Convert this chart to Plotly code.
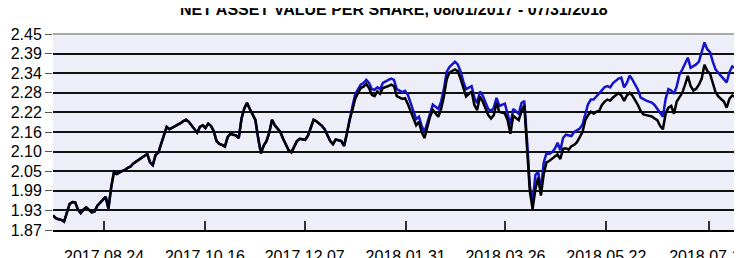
import plotly.graph_objects as go

# trading-day index (0 = 2017-08-01)
days = [
    0, 1, 2, 3, 4, 6, 7, 8, 9, 10,
    11, 12, 14, 15, 16, 17, 18, 19, 20, 21,
    22, 23, 25, 26, 27, 28, 29, 31, 32, 33,
    34, 35, 36, 37, 38, 40, 41, 42, 43, 44,
    46, 47, 48, 49, 50, 51, 52, 53, 54, 55,
    56, 57, 58, 59, 60, 61, 62, 63, 64, 65,
    66, 67, 68, 69, 70, 71, 73, 74, 75, 76,
    77, 78, 79, 80, 82, 83, 84, 85, 86, 87,
    88, 89, 91, 92, 93, 94, 95, 97, 98, 99,
    100, 101, 102, 104, 105, 106, 107, 108, 109, 110,
    111, 112, 113, 114, 115, 116, 117, 118, 119, 121,
    122, 123, 124, 126, 127, 128, 130, 131, 132, 133,
    134, 135, 136, 137, 139, 140, 141, 142, 143, 145,
    146, 147, 148, 149, 151, 152, 153, 154, 155, 157,
    158, 159, 160, 161, 163, 164, 165, 166, 168, 169,
    170,
    171, 172, 173, 174, 175, 176, 177, 178, 179, 180,
    181, 182, 183, 184, 185, 186, 187, 188, 189, 190,
    191, 192, 193, 194, 195, 196, 197, 198, 199, 200,
    201, 202, 203, 204, 205, 206, 207, 208, 209, 210,
    211, 212, 213, 214, 215, 216, 217, 218, 219, 220,
    221, 222, 223, 224, 225, 226, 227, 228, 229, 230,
    231, 232, 233, 234, 235, 236, 237, 238, 239, 240,
    241, 242, 243, 244, 245, 246, 247, 248, 249, 250,
]

nav = [
    1.913, 1.905, 1.902, 1.900, 1.895, 1.947, 1.953, 1.952, 1.930, 1.920,
    1.930, 1.937, 1.922, 1.925, 1.942, 1.950, 1.958, 1.968, 1.933, 1.997,
    2.042, 2.036, 2.045, 2.048, 2.054, 2.058, 2.067, 2.078, 2.082, 2.088,
    2.095, 2.070, 2.062, 2.092, 2.099, 2.150, 2.175, 2.168, 2.172, 2.178,
    2.186, 2.192, 2.196, 2.190, 2.180, 2.170, 2.158, 2.175, 2.180, 2.172,
    2.185, 2.178, 2.162, 2.133, 2.125, 2.122, 2.117, 2.145, 2.155, 2.152,
    2.150, 2.142, 2.200, 2.230, 2.246, 2.228, 2.196, 2.142, 2.097, 2.120,
    2.133, 2.158, 2.196, 2.180, 2.160, 2.140, 2.124, 2.106, 2.100, 2.118,
    2.133, 2.140, 2.137, 2.150, 2.175, 2.196, 2.192, 2.178, 2.168, 2.151,
    2.133, 2.124, 2.138, 2.133, 2.119, 2.155, 2.196, 2.225, 2.258, 2.275,
    2.290, 2.294, 2.302, 2.290, 2.270, 2.266, 2.280, 2.273, 2.290, 2.296,
    2.300, 2.296, 2.266, 2.258, 2.260, 2.243, 2.198, 2.180, 2.190, 2.160,
    2.142, 2.175, 2.205, 2.225, 2.205, 2.228, 2.265, 2.315, 2.336, 2.345,
    2.340, 2.318, 2.290, 2.265, 2.280, 2.240, 2.225, 2.265, 2.250, 2.210,
    2.200, 2.210, 2.246, 2.219, 2.215, 2.195, 2.155, 2.208, 2.195, 2.222,
    2.240,
    2.125, 1.985, 1.932, 1.990, 2.025, 1.972, 2.035, 2.070, 2.074, 2.080,
    2.088, 2.094, 2.080, 2.110, 2.112, 2.108, 2.118, 2.122, 2.130, 2.145,
    2.160, 2.195, 2.210, 2.220, 2.214, 2.220, 2.222, 2.240, 2.250, 2.256,
    2.253, 2.262, 2.270, 2.275, 2.268, 2.252, 2.268, 2.276, 2.268, 2.255,
    2.240, 2.222, 2.212, 2.210, 2.208, 2.206, 2.200, 2.195, 2.178, 2.168,
    2.214, 2.232, 2.237, 2.214, 2.250, 2.265, 2.276, 2.300, 2.326, 2.296,
    2.283, 2.288, 2.300, 2.318, 2.359, 2.341, 2.333, 2.305, 2.278, 2.265,
    2.258, 2.250, 2.232, 2.258, 2.268, 2.264, 2.276, 2.280, 2.283, 2.287,
]

nav_total = [
    1.913, 1.905, 1.902, 1.900, 1.895, 1.947, 1.953, 1.952, 1.930, 1.920,
    1.930, 1.937, 1.922, 1.925, 1.942, 1.950, 1.958, 1.968, 1.933, 1.997,
    2.042, 2.036, 2.045, 2.048, 2.054, 2.058, 2.067, 2.078, 2.082, 2.088,
    2.095, 2.070, 2.062, 2.092, 2.099, 2.150, 2.175, 2.168, 2.172, 2.178,
    2.186, 2.192, 2.196, 2.190, 2.180, 2.170, 2.158, 2.175, 2.180, 2.172,
    2.185, 2.178, 2.162, 2.133, 2.125, 2.122, 2.117, 2.145, 2.155, 2.152,
    2.150, 2.142, 2.200, 2.230, 2.246, 2.228, 2.196, 2.142, 2.097, 2.120,
    2.133, 2.158, 2.196, 2.180, 2.160, 2.140, 2.124, 2.106, 2.100, 2.118,
    2.133, 2.140, 2.137, 2.150, 2.175, 2.196, 2.192, 2.178, 2.168, 2.151,
    2.133, 2.124, 2.138, 2.133, 2.119, 2.155, 2.200, 2.235, 2.272, 2.288,
    2.300, 2.305, 2.314, 2.305, 2.287, 2.285, 2.292, 2.287, 2.305, 2.314,
    2.318, 2.314, 2.287, 2.278, 2.282, 2.270, 2.223, 2.198, 2.205, 2.178,
    2.160, 2.187, 2.219, 2.241, 2.228, 2.250, 2.287, 2.338, 2.352, 2.368,
    2.360, 2.340, 2.310, 2.287, 2.296, 2.262, 2.245, 2.280, 2.268, 2.228,
    2.222, 2.232, 2.261, 2.237, 2.244, 2.210, 2.182, 2.228, 2.214, 2.246,
    2.252,
    2.135, 2.000, 1.952, 2.033, 2.042, 1.988, 2.069, 2.097, 2.095, 2.100,
    2.110, 2.128, 2.106, 2.142, 2.152, 2.150, 2.148, 2.160, 2.164, 2.170,
    2.182, 2.215, 2.242, 2.256, 2.256, 2.265, 2.275, 2.285, 2.293, 2.296,
    2.292, 2.305, 2.312, 2.318, 2.321, 2.292, 2.305, 2.327, 2.315, 2.298,
    2.285, 2.262, 2.257, 2.253, 2.250, 2.247, 2.240, 2.228, 2.215, 2.205,
    2.258, 2.287, 2.283, 2.273, 2.295, 2.330, 2.345, 2.365, 2.380, 2.350,
    2.355, 2.360, 2.368, 2.398, 2.425, 2.405, 2.396, 2.368, 2.345, 2.335,
    2.325, 2.314, 2.307, 2.337, 2.354, 2.350, 2.358, 2.362, 2.365, 2.368,
]

assert len(days) == len(nav) == len(nav_total)

x_tick_pos = [18.4, 54.8, 90.8, 127.2, 163.2, 199.6, 236.7]
x_tick_text = ["2017 08 24", "2017 10 16", "2017 12 07", "2018 01 31",
               "2018 03 26", "2018 05 22", "2018 07 13"]
y_tick_pos = [1.87, 1.928, 1.986, 2.044, 2.102, 2.16, 2.218, 2.276, 2.334, 2.392, 2.45]
y_tick_text = ["1.87", "1.93", "1.99", "2.05", "2.10", "2.16", "2.22", "2.28", "2.34", "2.39", "2.45"]

title_text = "NET ASSET VALUE PER SHARE, 08/01/2017 - 07/31/2018"

fig = go.Figure()
fig.add_trace(go.Scatter(x=days, y=nav_total, mode="lines", name="NAV (total)",
                         line=dict(color="#1414C8", width=2.5)))
fig.add_trace(go.Scatter(x=days, y=nav, mode="lines", name="NAV",
                         line=dict(color="#000000", width=2.5)))

fig.update_layout(
    width=742, height=258,
    margin=dict(l=45, r=1, t=26, b=19),
    paper_bgcolor="white",
    plot_bgcolor="#EEEEF9",
    showlegend=False,
    font=dict(family="Liberation Sans, Arial, sans-serif", color="black"),
    annotations=[dict(
        text="<b>" + title_text + "</b>", xref="paper", yref="paper",
        x=0.491, y=1, yshift=14, xanchor="center", yanchor="bottom",
        showarrow=False, font=dict(size=16, color="black"),
    )],
    shapes=[dict(type="line", xref="paper", yref="paper", x0=0, x1=1, y0=1, y1=1,
                 line=dict(color="#A8A8A8", width=2), layer="above")],
)
fig.update_xaxes(
    range=[0, 250.7], tickmode="array", tickvals=x_tick_pos, ticktext=x_tick_text,
    showgrid=False, zeroline=False, showline=True, linecolor="black", linewidth=2,
    ticks="inside", ticklen=9, tickwidth=2, tickcolor="#333",
    tickfont=dict(size=16), ticklabelstandoff=11, ticklabeloverflow="allow",
)
fig.update_yaxes(
    range=[1.87, 2.45], tickmode="array", tickvals=y_tick_pos, ticktext=y_tick_text,
    showgrid=True, gridcolor="#111111", gridwidth=1.5, zeroline=False, showline=False,
    ticks="outside", ticklen=7, tickwidth=1, tickcolor="#555",
    tickfont=dict(size=16),
)

fig.write_html("out.html")
